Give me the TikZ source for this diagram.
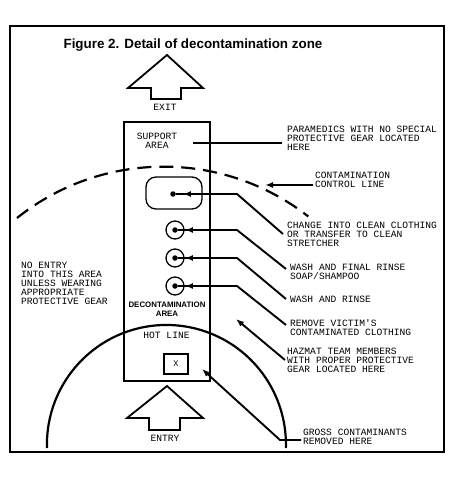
\documentclass[tikz,border=0pt]{standalone}
\usepackage{fontspec}
\newfontfamily\labelfont{Liberation Mono}
\newfontfamily\headfont{Liberation Sans}
\usetikzlibrary{arrows.meta}

\begin{document}
\begin{tikzpicture}[x=1pt,y=-1pt,
    note/.style={font=\labelfont\fontsize{9.6}{9}\selectfont,align=left,anchor=north west,inner sep=0pt},
    mid/.style={font=\labelfont\fontsize{9.6}{9}\selectfont,align=center,inner sep=0pt},
    lead/.style={line width=1.9pt},
    arr/.style={lead,-{Latex[length=8pt,width=6pt]}},
    ring/.style={draw,circle,line width=1.3pt,minimum size=18pt,inner sep=0pt},
    spot/.style={fill,circle,inner sep=0pt,minimum size=5.5pt}]
  \useasboundingbox (0,0) rectangle (456,478);
  \draw[line width=2.6pt] (10,26) rectangle (444,452);
  \node[font=\headfont\bfseries\fontsize{13.4}{14}\selectfont] (title) at (193,45) {Figure 2. Detail of decontamination zone};

  % exit and entry arrows
  \draw[line width=1.8pt] (167,55) -- (203,88) -- (181,88) -- (181,99) -- (151,99) -- (151,88) -- (128,88) -- cycle;
  \node[mid] (exit) at (165,107) {EXIT};
  \draw[line width=1.8pt] (167,386) -- (203,418) -- (180,418) -- (180,430) -- (149,430) -- (149,418) -- (127,418) -- cycle;
  \node[mid] (entry) at (165,438) {ENTRY};

  % zone box
  \draw[line width=1.3pt] (124,122) rectangle (210,381);
  \node[mid,align=center] (support) at (157,141) {SUPPORT\\AREA};
  \node[font=\headfont\bfseries\fontsize{7.9}{8.5}\selectfont,align=center,inner sep=0pt] (decon) at (167,309) {DECONTAMINATION\\AREA};
  \node[mid] (hotline) at (166.5,335) {HOT LINE};
  \node[draw,line width=2.2pt,minimum width=24pt,minimum height=20pt,inner sep=0pt,font=\labelfont\fontsize{8.5}{8}\selectfont] (xbox) at (176,364) {X};

  % control line and hot line
  \draw[line width=2.2pt,dash pattern=on 14pt off 8pt] (17,218) arc[start angle=128.6,end angle=52,radius=235pt];
  \draw[line width=2.2pt] (47,448) arc[start angle=181.7,end angle=-1.7,radius=119.5pt];

  % stations
  \node[draw,rounded corners=10pt,line width=1.3pt,minimum width=56pt,minimum height=32pt] (pod) at (174,193) {};
  \node[spot] (d1) at (173,194) {};
  \foreach \y/\n in {230/2,258/3,286/4} {
    \node[ring] (r\n) at (175,\y) {};
    \node[spot] (d\n) at (175,\y) {};
  }

  % labels
  \node[note] (para) at (287,126) {PARAMEDICS WITH NO SPECIAL\\PROTECTIVE GEAR LOCATED\\HERE};
  \node[note] (ccl) at (315,172) {CONTAMINATION\\CONTROL LINE};
  \node[note] (change) at (287,222) {CHANGE INTO CLEAN CLOTHING\\OR TRANSFER TO CLEAN\\STRETCHER};
  \node[note] (wfr) at (290,264) {WASH AND FINAL RINSE\\SOAP/SHAMPOO};
  \node[note] (wr) at (290,295.5) {WASH AND RINSE};
  \node[note] (remove) at (290,319) {REMOVE VICTIM'S\\CONTAMINATED CLOTHING};
  \node[note] (hazmat) at (287,348) {HAZMAT TEAM MEMBERS\\WITH PROPER PROTECTIVE\\GEAR LOCATED HERE};
  \node[note] (gross) at (303,429) {GROSS CONTAMINANTS\\REMOVED HERE};
  \node[note] (noentry) at (21,262) {NO ENTRY\\INTO THIS AREA\\UNLESS WEARING\\APPROPRIATE\\PROTECTIVE GEAR};

  % leader points
  \coordinate (sa) at (193,143);
  \coordinate (pa) at (282,143);
  \coordinate (cc) at (313,185);
  \coordinate (ct) at (265,185);
  \coordinate (k1) at (237,194);
  \coordinate (k2) at (237,230);
  \coordinate (k3) at (237,258);
  \coordinate (k4) at (237,286);
  \coordinate (e1) at (283,234);
  \coordinate (e2) at (286,269);
  \coordinate (e3) at (286,299);
  \coordinate (e4) at (286,325);
  \coordinate (hz) at (285,360);
  \coordinate (ht) at (236,319);
  \coordinate (gr) at (301,440);
  \coordinate (gk) at (280,440);
  \coordinate (gt) at (202,369);

  % leaders
  \draw[lead] (sa) -- (pa);
  \draw[arr] (cc) -- (ct);
  \foreach \n in {1,...,4} {
    \draw[lead] (d\n) -- (k\n) -- (e\n);
    \draw[arr,shorten >=7pt] (k\n) -- (d\n);
  }
  \draw[arr] (hz) -- (ht);
  \draw[arr] (gr) -- (gk) -- (gt);
\end{tikzpicture}
\end{document}
